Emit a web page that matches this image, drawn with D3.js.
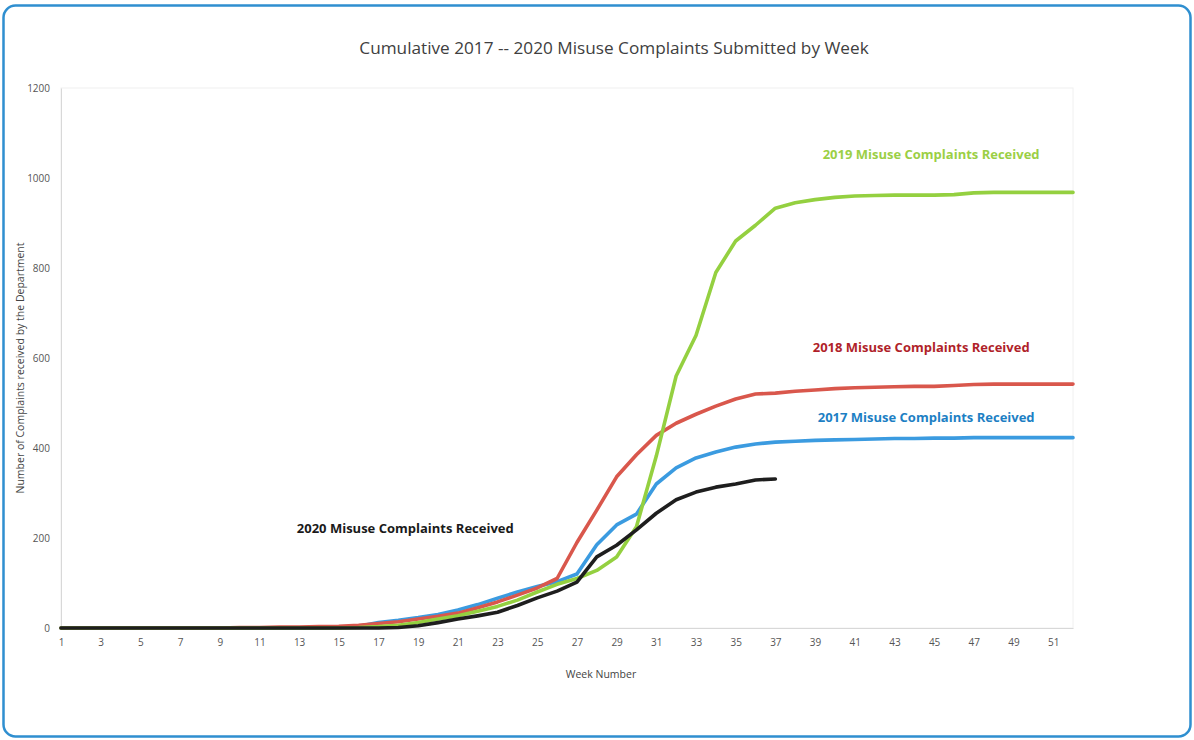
<!DOCTYPE html>
<html>
<head>
<meta charset="utf-8">
<script src="https://cdn.jsdelivr.net/npm/d3@7"></script>
<style>
  html, body { margin: 0; padding: 0; background: #ffffff; }
  svg { display: block; }
</style>
</head>
<body>
<svg id="chart" width="1194" height="740"></svg>
<script>
// ---------------- data ----------------
const weeks = d3.range(1, 53);
const xTickWeeks = d3.range(1, 52, 2);
const yTicks = [0, 200, 400, 600, 800, 1000, 1200];

const series2017 = [0,0,0,0,0,0,0,0,0,0,0,0,0,0,1,4,12,17,23,30,40,52,66,80,92,103,120,185,229,253,320,356,378,391,402,409,413,415,417,418,419,420,421,421,422,422,423,423,423,423,423,423];
const series2018 = [0,0,0,0,0,0,0,0,0,1,1,2,2,3,4,6,10,14,20,26,33,45,58,73,89,110,190,262,336,385,428,455,475,493,509,520,522,526,529,532,534,535,536,537,537,539,541,542,542,542,542,542];
const series2019 = [0,0,0,0,0,0,0,0,0,0,0,0,0,0,0,1,3,6,12,20,27,37,48,62,80,97,110,128,158,225,382,560,650,790,860,895,933,945,952,957,960,961,962,962,962,963,967,968,968,968,968,968];
const series2020 = [0,0,0,0,0,0,0,0,0,0,0,0,0,0,0,0,0,1,5,12,20,27,35,50,67,82,102,158,184,218,255,285,302,313,320,329,331];

const seriesNames = ["2017 Misuse Complaints Received", "2018 Misuse Complaints Received", "2019 Misuse Complaints Received", "2020 Misuse Complaints Received"];
const seriesData = [series2017, series2018, series2019, series2020];
const lineColors = ["#3b9be0", "#d9574c", "#94d040", "#1e1e1e"];
const labelColors = ["#1d7fc4", "#b01f2a", "#9bcf45", "#1a1a1a"];
// label anchor positions in data space [week, value]
const labelPos = [[44.6, 465], [44.35, 620], [44.85, 1050], [18.35, 218]];

const title = "Cumulative 2017 -- 2020 Misuse Complaints Submitted by Week";
const yTitle = "Number of Complaints received by the Department";
const xTitle = "Week Number";

// ---------------- drawing ----------------
const svg = d3.select("#chart");
const W = 1194, H = 740;
const plot = { left: 61, right: 1073, top: 88, bottom: 628 };

// outer frame
svg.append("rect")
  .attr("x", 3.5).attr("y", 5.5)
  .attr("width", W - 7).attr("height", H - 9)
  .attr("rx", 12).attr("ry", 12)
  .attr("fill", "#ffffff")
  .attr("stroke", "#2f8fd0").attr("stroke-width", 2.5);

const x = d3.scaleLinear().domain([1, 52]).range([plot.left, plot.right]);
const y = d3.scaleLinear().domain([0, 1200]).range([plot.bottom, plot.top]);

// faint plot border
svg.append("rect")
  .attr("x", plot.left).attr("y", plot.top)
  .attr("width", plot.right - plot.left).attr("height", plot.bottom - plot.top)
  .attr("fill", "none").attr("stroke", "#f0f0f0").attr("stroke-width", 1);

// y axis
const yAxis = d3.axisLeft(y).tickValues(yTicks).tickFormat(d3.format("d")).tickSize(0).tickPadding(11);
const gy = svg.append("g").attr("transform", `translate(${plot.left},0)`).call(yAxis);
gy.select(".domain").attr("stroke", "#d8d8d8");
gy.selectAll("text").attr("font-family", "'Open Sans', sans-serif").attr("font-size", 10).attr("fill", "#555");

// x axis
const xAxis = d3.axisBottom(x).tickValues(xTickWeeks).tickSize(0).tickPadding(11);
const gx = svg.append("g").attr("transform", `translate(0,${plot.bottom})`).call(xAxis);
gx.select(".domain").attr("stroke", "#d8d8d8");
gx.selectAll("text").attr("font-family", "'Open Sans', sans-serif").attr("font-size", 10).attr("fill", "#555");

// lines
const line = d3.line()
  .x((d, i) => x(weeks[i]))
  .y(d => y(d));

seriesData.forEach((s, k) => {
  svg.append("path")
    .datum(s)
    .attr("fill", "none")
    .attr("stroke", lineColors[k])
    .attr("stroke-width", 3.6)
    .attr("stroke-linejoin", "round")
    .attr("stroke-linecap", "round")
    .attr("d", line);
});

// series labels
seriesNames.forEach((name, k) => {
  svg.append("text")
    .attr("x", x(labelPos[k][0]))
    .attr("y", y(labelPos[k][1]))
    .attr("text-anchor", "middle")
    .attr("dominant-baseline", "middle")
    .attr("font-family", "'Open Sans', sans-serif")
    .attr("font-weight", "bold")
    .attr("font-size", 13)
    .attr("fill", labelColors[k])
    .text(name);
});

// title
svg.append("text")
  .attr("x", 614).attr("y", 54)
  .attr("text-anchor", "middle")
  .attr("font-family", "'Open Sans', sans-serif")
  .attr("font-size", 17.2)
  .attr("fill", "#404040")
  .text(title);

// axis titles
svg.append("text")
  .attr("transform", `translate(24,${(plot.top + plot.bottom) / 2 + 10}) rotate(-90)`)
  .attr("text-anchor", "middle")
  .attr("font-family", "'Open Sans', sans-serif")
  .attr("font-size", 10.5)
  .attr("fill", "#444")
  .text(yTitle);

svg.append("text")
  .attr("x", 601).attr("y", 678)
  .attr("text-anchor", "middle")
  .attr("font-family", "'Open Sans', sans-serif")
  .attr("font-size", 10.5)
  .attr("fill", "#444")
  .text(xTitle);
</script>
</body>
</html>
